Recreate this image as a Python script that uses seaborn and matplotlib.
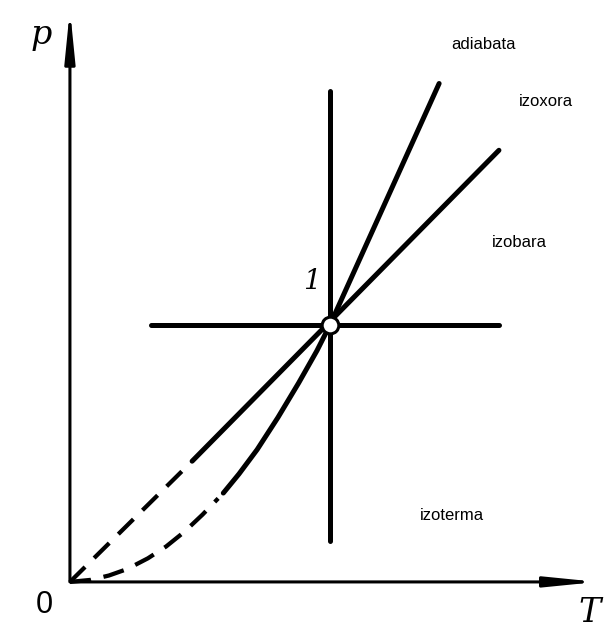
import numpy as np
import pandas as pd
import matplotlib
matplotlib.use("Agg")
import matplotlib.pyplot as plt
import seaborn as sns

sns.set_style("white")
plt.rcParams['font.family'] = ['Liberation Sans', 'DejaVu Sans']
plt.rcParams['text.color'] = 'black'

# state point 1 is at T=1, p=1
adiabat_dash_T = [0.0, 0.08, 0.15, 0.22, 0.30, 0.37, 0.44, 0.51, 0.57]
adiabat_dash_p = [0.0, 0.008, 0.025, 0.05, 0.092, 0.138, 0.195, 0.262, 0.325]
adiabat_T = [0.59, 0.65, 0.72, 0.80, 0.88, 0.95, 1.0, 1.21, 1.42]
adiabat_p = [0.346, 0.42, 0.515, 0.64, 0.775, 0.90, 1.0, 1.47, 1.94]
isochore_dash_T = [0.0, 0.46]
isochore_dash_p = [0.0, 0.46]
isochore_T = [0.47, 1.65]
isochore_p = [0.47, 1.68]
isotherm_T = [1.0, 1.0]
isotherm_p = [0.16, 1.91]
isobar_T = [0.31, 1.65]
isobar_p = [1.0, 1.0]

labels = ["adiabata", "izoxora", "izobara", "izoterma"]
label_T = [1.59, 1.83, 1.73, 1.47]
label_p = [2.09, 1.87, 1.32, 0.26]

fig = plt.figure(figsize=(6.05, 6.31), dpi=100)
ax = fig.add_axes([0, 0, 1, 1])
ax.set_xlim(-0.269, 2.058)
ax.set_ylim(-0.191, 2.265)
ax.axis("off")

dash = (0, (5, 3))
lw = 3.6
sns.lineplot(x=adiabat_dash_T, y=adiabat_dash_p, ax=ax, color="k", lw=lw * 0.85,
             linestyle=dash, sort=False, estimator=None)
sns.lineplot(x=isochore_dash_T, y=isochore_dash_p, ax=ax, color="k", lw=lw * 0.85,
             linestyle=dash, sort=False, estimator=None)
sns.lineplot(x=adiabat_T, y=adiabat_p, ax=ax, color="k", lw=lw, sort=False, estimator=None)
sns.lineplot(x=isochore_T, y=isochore_p, ax=ax, color="k", lw=lw, sort=False, estimator=None)
sns.lineplot(x=isotherm_T, y=isotherm_p, ax=ax, color="k", lw=lw, sort=False, estimator=None)
sns.lineplot(x=isobar_T, y=isobar_p, ax=ax, color="k", lw=lw, sort=False, estimator=None)

# state point
ax.plot([1.0], [1.0], marker="o", ms=12, mfc="white", mec="black", mew=2.2, zorder=5)
ax.text(0.93, 1.17, "1", fontsize=20, style="italic", ha="center", va="center",
        family="DejaVu Serif")

# axes with arrows
ax.annotate("", xy=(0.0, 2.24), xytext=(0.0, -0.01),
            arrowprops=dict(arrowstyle="-|>,head_width=0.15,head_length=1.5",
                            color="k", lw=2.2, mutation_scale=20))
ax.annotate("", xy=(2.04, 0.0), xytext=(-0.01, 0.0),
            arrowprops=dict(arrowstyle="-|>,head_width=0.15,head_length=1.5",
                            color="k", lw=2.2, mutation_scale=20))
ax.text(-0.11, 2.13, "p", fontsize=24, style="italic", ha="center", va="center",
        family="DejaVu Serif")
ax.text(2.0, -0.12, "T", fontsize=24, style="italic", ha="center", va="center",
        family="DejaVu Serif")
ax.text(-0.1, -0.09, "0", fontsize=22, ha="center", va="center")

for s, t, p in zip(labels, label_T, label_p):
    ax.text(t, p, s, fontsize=12, ha="center", va="center")

fig.savefig("out.png", dpi=100)
